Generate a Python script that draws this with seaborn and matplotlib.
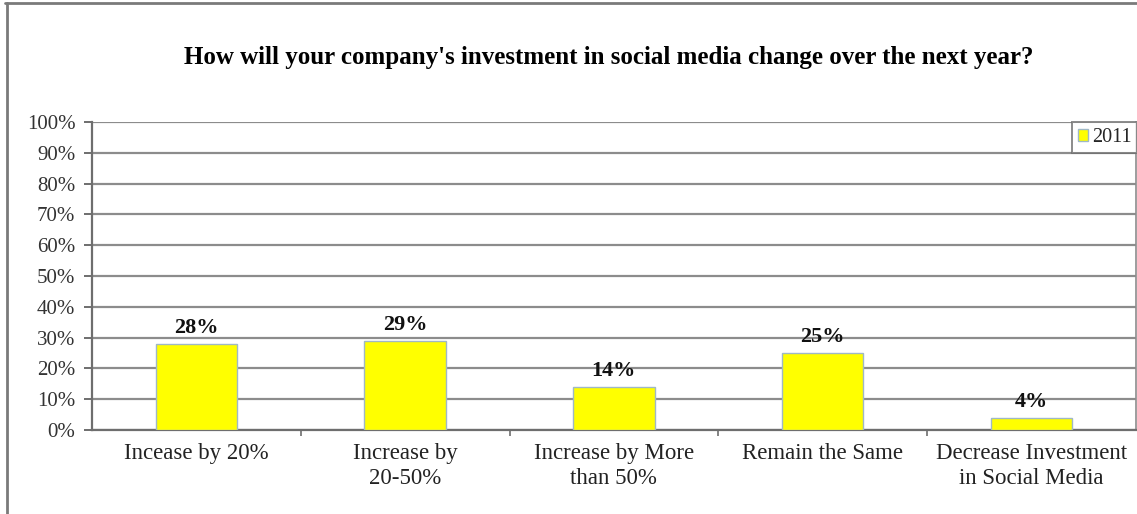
import matplotlib
matplotlib.use("Agg")
import matplotlib.pyplot as plt
from matplotlib.lines import Line2D
from matplotlib.ticker import FixedLocator, PercentFormatter
import numpy as np
import pandas as pd
import seaborn as sns

categories = [
    "Incease by 20%",
    "Increase by\n20-50%",
    "Increase by More\nthan 50%",
    "Remain the Same",
    "Decrease Investment\nin Social Media",
]
values_2011 = [28, 29, 14, 25, 4]
series_name = "2011"
title = "How will your company's investment in social media change over the next year?"

df = pd.DataFrame({"category": categories, "value": values_2011, "year": series_name})

sns.set_theme(style="white")
plt.rcParams["font.family"] = ["Liberation Serif", "DejaVu Serif"]

fig = plt.figure(figsize=(11.37, 5.14), dpi=100)
ax = fig.add_axes([0.0809, 0.1634, 0.9181, 0.5992])

grid_color = "#8c8c8c"
sns.barplot(
    data=df, x="category", y="value", hue="year",
    palette=["#ffff00"], saturation=1, edgecolor="#9fb8c6", linewidth=1.0,
    width=0.39, ax=ax, zorder=3,
)

ax.set_ylim(0, 100)
ax.set_xlim(-0.5, len(categories) - 0.5)
ax.yaxis.set_major_locator(FixedLocator(np.arange(0, 101, 10)))
ax.yaxis.set_major_formatter(PercentFormatter(decimals=0))
ax.grid(axis="y", color=grid_color, linewidth=1.6, zorder=0)
ax.set_axisbelow(True)
ax.set_xlabel("")
ax.set_ylabel("")

for side in ("top", "right"):
    ax.spines[side].set_visible(False)
for side in ("left", "bottom"):
    ax.spines[side].set_color("#6e6e6e")
    ax.spines[side].set_linewidth(1.6)
ax.plot([1, 1], [0, 1], transform=ax.transAxes, color=grid_color, lw=1.2, clip_on=False)

ax.tick_params(axis="y", direction="out", length=6, width=1.4, color="#6e6e6e",
               labelsize=15, labelcolor="#333333", pad=6, left=True)
ax.tick_params(axis="x", which="major", length=0, labelsize=16.5,
               labelcolor="#222222", pad=9)
ax.set_xticks(np.arange(0.5, len(categories) - 0.5), minor=True)
ax.tick_params(axis="x", which="minor", direction="out", length=4, width=1.2,
               color="#6e6e6e", bottom=True)
for lbl in ax.get_xticklabels():
    lbl.set_multialignment("center")
    lbl.set_linespacing(1.3)

for cont in ax.containers:
    ax.bar_label(cont, labels=[f"{v}%" for v in values_2011], padding=4,
                 fontsize=16, fontweight="bold", color="#111111")

leg = ax.legend(
    loc="upper right", bbox_to_anchor=(1.0015, 1.0), frameon=True,
    fontsize=14.5, handlelength=0.5, handleheight=0.5, handletextpad=0.2,
    borderpad=0.3, fancybox=False, borderaxespad=0,
)
leg.get_frame().set_edgecolor("#6e6e6e")
leg.get_frame().set_linewidth(1.4)

fig.text(0.535, 0.889, title, ha="center", va="center",
         fontsize=18, fontweight="bold", color="#000000")

# outer chart frame (top and left edges)
fig.add_artist(Line2D([0.004, 1.0], [0.994, 0.994], color="#7a7a7a", lw=2.0))
fig.add_artist(Line2D([0.006, 0.006], [0.0, 0.994], color="#7a7a7a", lw=2.0))

fig.savefig("out.png", dpi=100, facecolor="white")
